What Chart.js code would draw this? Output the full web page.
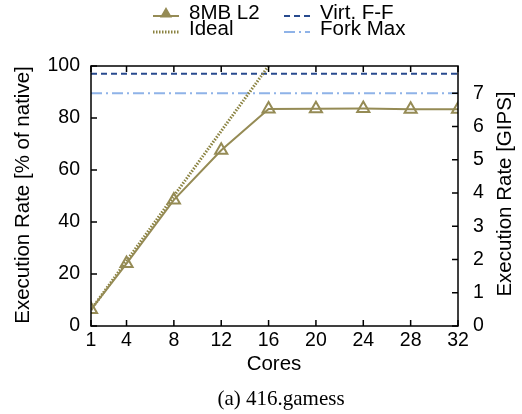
<!DOCTYPE html>
<html>
<head>
<meta charset="utf-8">
<script src="https://cdn.jsdelivr.net/npm/chart.js@4/dist/chart.umd.min.js"></script>
<style>
  html, body { margin: 0; padding: 0; background: #fff; }
  canvas { display: block; }
</style>
</head>
<body>
<canvas id="rate-chart" width="522" height="414"></canvas>
<script>
// Execution rate vs. core count (416.gamess)
const coreCounts = [1, 4, 8, 12, 16, 20, 24, 28, 32];
const l2Rate = [6.3, 24, 48.5, 67.6, 83.5, 83.6, 83.7, 83.4, 83.4];

const idealCores = [1, 4, 8, 12, 16];
const idealRate = [6.25, 25, 50, 75, 100];

const virtFFRate = 97;
const forkMaxRate = 89.5;

const xTicks = [1, 4, 8, 12, 16, 20, 24, 28, 32];
const leftTicks = [0, 20, 40, 60, 80, 100];
const rightTicks = [0, 1, 2, 3, 4, 5, 6, 7];
const nativeGips = 7.82; // 100% of native on the GIPS axis

const FONT = '"Liberation Sans", Arial, Helvetica, sans-serif';
const SERIF = '"Liberation Serif", "Times New Roman", serif';
const OLIVE = '#958b55';
const IDEAL_COLOR = '#8a8240';
const VIRT_COLOR = '#284a8e';
const FORK_COLOR = '#8fb3e8';

const toPoints = (xs, ys) => xs.map((x, i) => ({ x: x, y: ys[i] }));

function drawText(ctx, text, x, y, font, rotation) {
    ctx.save();
    ctx.translate(x, y);
    if (rotation) ctx.rotate(rotation);
    ctx.font = font;
    ctx.fillStyle = '#000';
    ctx.textAlign = 'center';
    ctx.textBaseline = 'middle';
    ctx.fillText(text, 0, 0);
    ctx.restore();
}

// frame, inward tick marks, axis titles, legend and caption
const decorations = {
    id: 'decorations',
    afterDraw(chart) {
        const ctx = chart.ctx;
        const area = chart.chartArea;
        const sx = chart.scales.x, sy = chart.scales.y, sy2 = chart.scales.y2;
        const tl = 6;
        ctx.save();
        ctx.strokeStyle = '#000';
        ctx.lineWidth = 1.5;
        ctx.beginPath();
        xTicks.forEach(v => {
            const px = sx.getPixelForValue(v);
            ctx.moveTo(px, area.bottom); ctx.lineTo(px, area.bottom - tl);
            ctx.moveTo(px, area.top); ctx.lineTo(px, area.top + tl);
        });
        leftTicks.forEach(v => {
            const py = sy.getPixelForValue(v);
            ctx.moveTo(area.left, py); ctx.lineTo(area.left + tl, py);
        });
        rightTicks.forEach(v => {
            const py = sy2.getPixelForValue(v);
            ctx.moveTo(area.right, py); ctx.lineTo(area.right - tl, py);
        });
        ctx.stroke();
        ctx.strokeRect(area.left, area.top, area.right - area.left, area.bottom - area.top);
        ctx.restore();

        const titleFont = '20.5px ' + FONT;
        drawText(ctx, 'Execution Rate [% of native]', 23, 195, titleFont, -Math.PI / 2);
        drawText(ctx, 'Execution Rate [GIPS]', 505, 194, titleFont, -Math.PI / 2);
        drawText(ctx, 'Cores', 274, 364, titleFont, 0);

        // legend, two columns
        const items = [
            { ds: 0, x: 153, y: 16, ty: 13.5 },
            { ds: 1, x: 153, y: 32, ty: 29.5 },
            { ds: 2, x: 284, y: 16, ty: 13.5 },
            { ds: 3, x: 284, y: 32, ty: 29.5 }
        ];
        const swatchW = 26;
        items.forEach(it => {
            const ds = chart.data.datasets[it.ds];
            ctx.save();
            ctx.strokeStyle = ds.borderColor;
            ctx.lineWidth = ds.borderWidth;
            ctx.setLineDash(ds.borderDash || []);
            ctx.beginPath();
            ctx.moveTo(it.x, it.y);
            ctx.lineTo(it.x + swatchW, it.y);
            ctx.stroke();
            ctx.restore();
            if (ds.pointRadius > 0) {
                ctx.save();
                ctx.strokeStyle = ds.borderColor;
                ctx.fillStyle = ds.borderColor;
                ctx.lineWidth = ds.pointBorderWidth;
                Chart.helpers.drawPoint(ctx, {
                    pointStyle: 'triangle',
                    radius: 5,
                    borderWidth: ds.pointBorderWidth,
                    rotation: 0
                }, it.x + swatchW / 2, it.y - 2);
                ctx.restore();
            }
            ctx.save();
            ctx.fillStyle = '#000';
            ctx.font = '20.5px ' + FONT;
            ctx.textBaseline = 'middle';
            ctx.textAlign = 'left';
            ctx.fillText(ds.label, it.x + swatchW + 10, it.ty);
            ctx.restore();
        });

        // caption
        ctx.save();
        ctx.fillStyle = '#000';
        ctx.font = '21px ' + SERIF;
        ctx.textAlign = 'center';
        ctx.textBaseline = 'alphabetic';
        ctx.fillText('(a) 416.gamess', 281, 405);
        ctx.restore();
    }
};

const tickFont = { family: FONT, size: 19.5 };

new Chart(document.getElementById('rate-chart'), {
    type: 'line',
    data: {
        datasets: [
            {
                label: '8MB L2',
                data: toPoints(coreCounts, l2Rate),
                borderColor: OLIVE,
                borderWidth: 2,
                pointStyle: 'triangle',
                pointRadius: 7,
                pointBorderWidth: 2,
                pointBorderColor: OLIVE,
                pointBackgroundColor: 'rgba(255,255,255,0)',
                yAxisID: 'y'
            },
            {
                label: 'Ideal',
                data: toPoints(idealCores, idealRate),
                borderColor: IDEAL_COLOR,
                borderWidth: 3,
                borderDash: [1.5, 1.5],
                pointRadius: 0,
                yAxisID: 'y'
            },
            {
                label: 'Virt. F-F',
                data: [{ x: 1, y: virtFFRate }, { x: 32, y: virtFFRate }],
                borderColor: VIRT_COLOR,
                borderWidth: 2,
                borderDash: [6, 4],
                pointRadius: 0,
                yAxisID: 'y'
            },
            {
                label: 'Fork Max',
                data: [{ x: 1, y: forkMaxRate }, { x: 32, y: forkMaxRate }],
                borderColor: FORK_COLOR,
                borderWidth: 2,
                borderDash: [11, 4, 2, 4],
                pointRadius: 0,
                yAxisID: 'y'
            }
        ]
    },
    options: {
        responsive: false,
        animation: false,
        layout: { padding: { top: 66, right: 0, bottom: 0, left: 0 } },
        plugins: {
            legend: { display: false },
            tooltip: { enabled: false },
            title: { display: false }
        },
        scales: {
            x: {
                type: 'linear',
                min: 1,
                max: 32,
                afterBuildTicks: (scale) => { scale.ticks = xTicks.map(v => ({ value: v })); },
                afterFit: (scale) => { scale.height = 88; },
                grid: { display: false, drawTicks: false },
                border: { display: false },
                ticks: { color: '#000', font: tickFont, padding: 3, maxRotation: 0, autoSkip: false }
            },
            y: {
                position: 'left',
                min: 0,
                max: 100,
                afterBuildTicks: (scale) => { scale.ticks = leftTicks.map(v => ({ value: v })); },
                afterFit: (scale) => { scale.width = 91; },
                grid: { display: false, drawTicks: false },
                border: { display: false },
                ticks: { color: '#000', font: tickFont, padding: 11 }
            },
            y2: {
                position: 'right',
                min: 0,
                max: nativeGips,
                afterBuildTicks: (scale) => { scale.ticks = rightTicks.map(v => ({ value: v })); },
                afterFit: (scale) => { scale.width = 64; },
                grid: { display: false, drawTicks: false },
                border: { display: false },
                ticks: { color: '#000', font: tickFont, padding: 15 }
            }
        }
    },
    plugins: [decorations]
});
</script>
</body>
</html>
